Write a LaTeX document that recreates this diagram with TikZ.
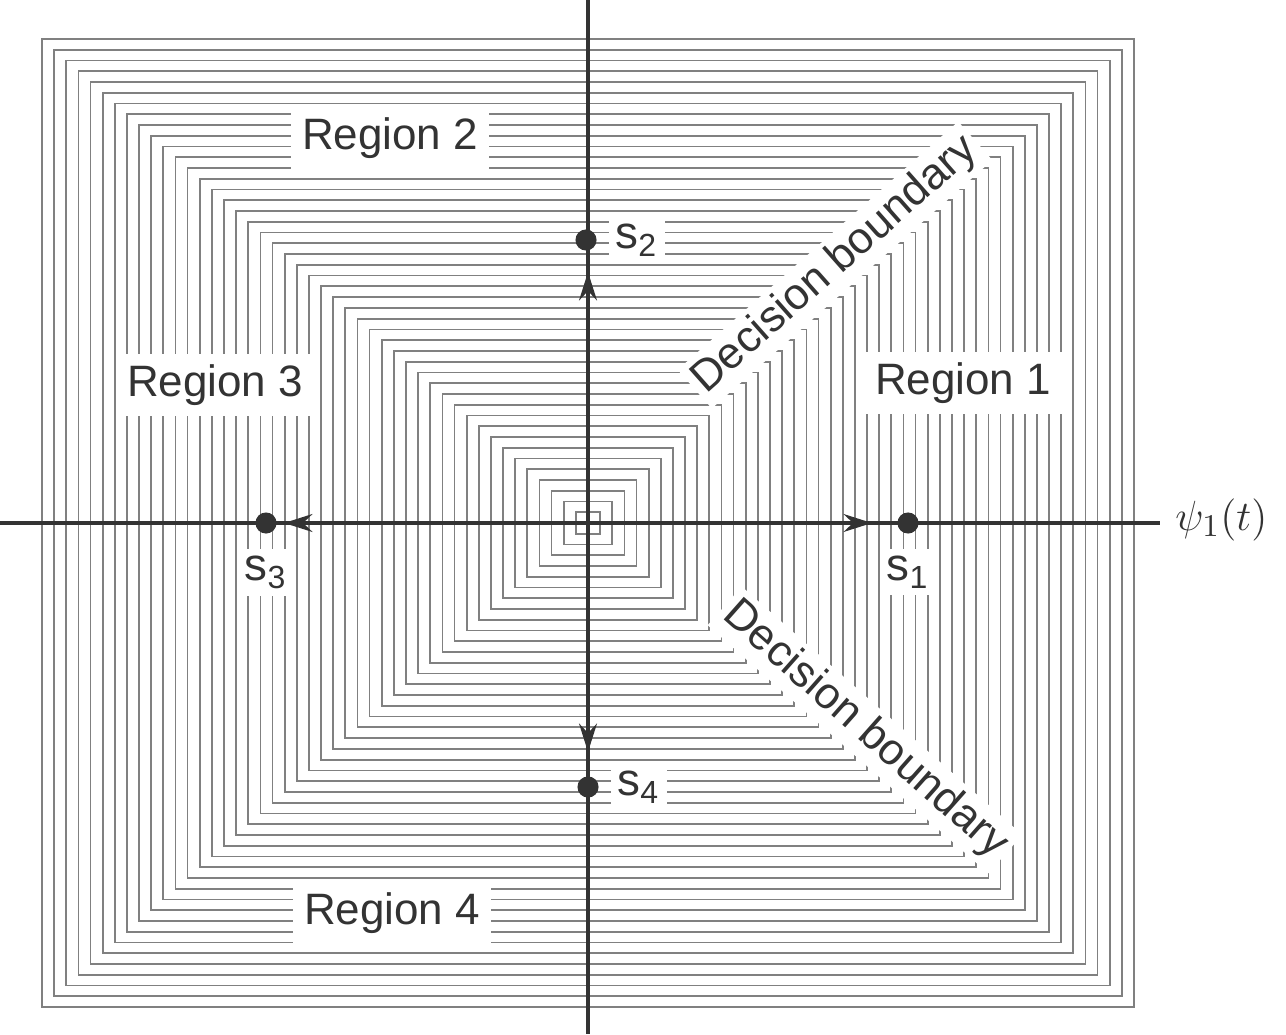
\documentclass[tikz,border=0pt]{standalone}
\usepackage{fontspec}
\setmainfont{Liberation Sans}
\usetikzlibrary{arrows.meta, positioning}

\begin{document}
\begin{tikzpicture}[x=0.01cm, y=-0.01cm,
    hatch/.style={draw=black!50, line width=0.5pt},
    axis/.style={draw=black!80, line width=0.9pt},
    arrow/.style={-{Stealth[length=8pt, width=5pt]}, line width=1.3pt, draw=black!80},
    region/.style={fill=white, inner sep=3pt, text=black!80, font=\fontsize{12.5}{15}\selectfont},
    point/.style={circle, fill=black!80, inner sep=0pt, minimum size=6pt},
    ptlabel/.style={fill=white, inner sep=2pt, text=black!80, font=\fontsize{13}{15}\selectfont}
  ]
  \useasboundingbox (0,0) rectangle (1286,1034);

  % nested rectangles
  \foreach \k in {1,...,45}
    \draw[hatch] ({588-12.133*\k},{523-10.756*\k}) rectangle ({588+12.133*\k},{523+10.756*\k});

  \coordinate (o) at (588,523);
  \coordinate (xl) at (0,523);
  \coordinate (xr) at (1160,523);
  \coordinate (yt) at (588,0);
  \coordinate (yb) at (588,1034);
  \draw[axis] (xl) -- (xr);
  \draw[axis] (yt) -- (yb);
  \node[anchor=west, text=black!80, font=\fontsize{13}{15}\selectfont] (psi) at (1163,520) {$\psi_1(t)$};

  % signal points
  \node[point] (s1) at (908,523) {};
  \node[point] (s2) at (586,240) {};
  \node[point] (s3) at (266,523) {};
  \node[point] (s4) at (588,787) {};
  \coordinate (e1) at (872,523);
  \coordinate (e2) at (588,272);
  \coordinate (e3) at (284,523);
  \coordinate (e4) at (588,752);
  \draw[arrow] (o) -- (e1);
  \draw[arrow] (o) -- (e2);
  \draw[arrow] (o) -- (e3);
  \draw[arrow] (o) -- (e4);

  \node[ptlabel, below=4pt of s1] (l1) {s\textsubscript{1}};
  \node[ptlabel, right=3pt of s2] (l2) {s\textsubscript{2}};
  \node[ptlabel, below=4pt of s3] (l3) {s\textsubscript{3}};
  \node[ptlabel, right=3pt of s4] (l4) {s\textsubscript{4}};

  % regions
  \node[region] (r1) at (963,383) {Region 1};
  \node[region] (r2) at (390,138) {Region 2};
  \node[region] (r3) at (215,385) {Region 3};
  \node[region] (r4) at (392,913) {Region 4};
  \node[region, inner sep=1.5pt, rotate=41.5] (db1) at (835,265) {Decision boundary};
  \node[region, inner sep=1.5pt, rotate=-41.5] (db2) at (865,730) {Decision boundary};
\end{tikzpicture}
\end{document}
